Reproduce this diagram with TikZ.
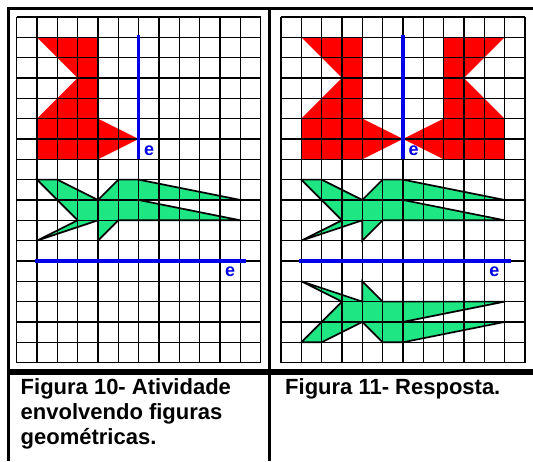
\documentclass[tikz,border=0pt]{standalone}
\usepackage{fontspec}
\setmainfont{Liberation Sans}
\definecolor{shapered}{RGB}{255,0,0}
\definecolor{shapegreen}{RGB}{30,230,130}
\definecolor{axisblue}{RGB}{0,0,230}
\tikzset{
  gridline/.style={black, line width=1.3pt},
  redfig/.style={fill=shapered},
  greenfig/.style={fill=shapegreen},
  greenedge/.style={draw=black, line width=1.7pt, line join=miter},
  axisline/.style={axisblue, line width=3.2pt},
  axislabel/.style={text=axisblue, font=\bfseries\fontsize{18}{18}\selectfont, inner sep=0pt},
  framerule/.style={black, line width=2.6pt},
  captext/.style={font=\bfseries\fontsize{22}{25}\selectfont, inner sep=0pt, anchor=base west},
}
\newcommand{\redorig}{(1,1) -- (4,1) -- (4,5) -- (6,6) -- (4,7) -- (1,7) -- (1,5) -- (3,3) -- cycle}
\newcommand{\redmirror}{(11,1) -- (8,1) -- (8,5) -- (6,6) -- (8,7) -- (11,7) -- (11,5) -- (9,3) -- cycle}
\newcommand{\greenorig}{(1,8) -- (2,8) -- (4,9) -- (5,8) -- (6,8) -- (11,9) -- (6,9) -- (11,10) -- (5,10) -- (4,11) -- (4,10) -- (1,11) -- (3,10) -- cycle}
\newcommand{\greenmirror}{(1,16) -- (2,16) -- (4,15) -- (5,16) -- (6,16) -- (11,15) -- (6,15) -- (11,14) -- (5,14) -- (4,13) -- (4,14) -- (1,13) -- (3,14) -- cycle}
\newcommand{\gridlines}{%
  \foreach \i in {0,...,12} \draw[gridline] (\i,0) -- (\i,17);
  \foreach \j in {0,...,17} \draw[gridline] (0,\j) -- (12,\j);}
\begin{document}
\begin{tikzpicture}[x=1pt,y=-1pt]
\useasboundingbox (0,0) rectangle (533,461);
\fill[white] (0,0) rectangle (533,461);
% left panel
\begin{scope}[shift={(16.7pt,-17pt)}, x=20.33pt, y=-20.33pt]
  \fill[redfig] \redorig;
  \fill[greenfig] \greenorig;
  \gridlines
  \draw[greenedge] \greenorig;
  \draw[axisline] (6,0.9) -- (6,7);
  \draw[axisline] (0.9,12) -- (11.3,12);
  \node[axislabel] (eLv) at (6.52,6.6) {e};
  \node[axislabel] (eLh) at (10.5,12.53) {e};
\end{scope}
% right panel
\begin{scope}[shift={(281pt,-17pt)}, x=20.33pt, y=-20.33pt]
  \fill[redfig] \redorig;
  \fill[redfig] \redmirror;
  \fill[greenfig] \greenorig;
  \fill[greenfig] \greenmirror;
  \gridlines
  \draw[greenedge] \greenorig;
  \draw[greenedge] \greenmirror;
  \draw[axisline] (6,0.9) -- (6,7);
  \draw[axisline] (0.9,12) -- (11.3,12);
  \node[axislabel] (eRv) at (6.52,6.6) {e};
  \node[axislabel] (eRh) at (10.5,12.53) {e};
\end{scope}
% frame
\draw[framerule, line join=miter] (8.7,461) -- (8.7,8.7) -- (533,8.7);
\draw[framerule] (269.7,7.4) -- (269.7,461);
\draw[black, line width=5.5pt] (7.4,372) -- (533,372);
% captions
\node[captext] (c10a) at (20.5,394) {Figura 10- Atividade};
\node[captext] (c10b) at (20.5,419) {envolvendo figuras};
\node[captext] (c10c) at (20.5,444) {geométricas.};
\node[captext] (c11) at (285,394) {Figura 11- Resposta.};
\end{tikzpicture}
\end{document}
